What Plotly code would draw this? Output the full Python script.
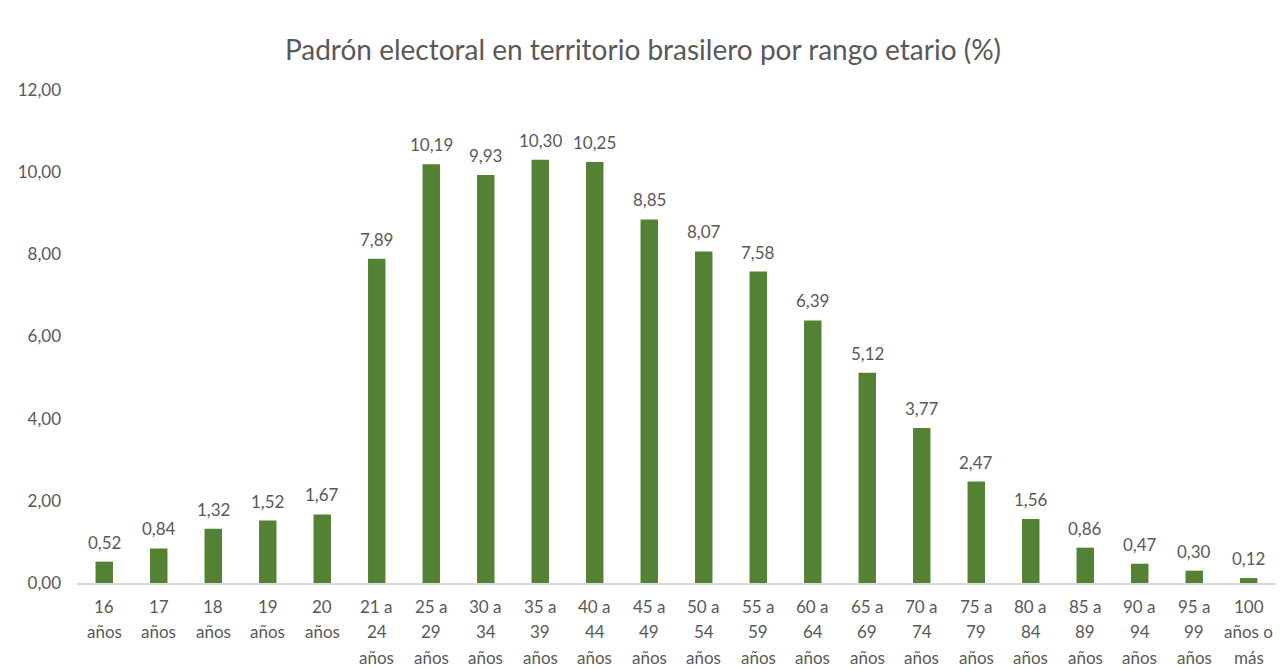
import plotly.graph_objects as go

categories = ["16\naños", "17\naños", "18\naños", "19\naños", "20\naños",
              "21 a\n24\naños", "25 a\n29\naños", "30 a\n34\naños",
              "35 a\n39\naños", "40 a\n44\naños", "45 a\n49\naños",
              "50 a\n54\naños", "55 a\n59\naños", "60 a\n64\naños",
              "65 a\n69\naños", "70 a\n74\naños", "75 a\n79\naños",
              "80 a\n84\naños", "85 a\n89\naños", "90 a\n94\naños",
              "95 a\n99\naños", "100\naños o\nmás"]
values = [0.52, 0.84, 1.32, 1.52, 1.67, 7.89, 10.19, 9.93, 10.30, 10.25, 8.85,
          8.07, 7.58, 6.39, 5.12, 3.77, 2.47, 1.56, 0.86, 0.47, 0.30, 0.12]
y_ticks = [0, 2, 4, 6, 8, 10, 12]

labels = [f"{v:.2f}".replace(".", ",") for v in values]

font_family = "Lato, 'Open Sans', sans-serif"
grey = "#595959"
xs = list(range(len(categories)))

fig = go.Figure(go.Bar(
    x=xs, y=values,
    marker=dict(color="#548235", line=dict(width=0)),
    width=0.32,
    cliponaxis=False,
    hoverinfo="skip",
))

annotations = []
# data labels
for x, v, t in zip(xs, values, labels):
    annotations.append(dict(x=x, y=v, xref="x", yref="y", text=t, showarrow=False,
                            yanchor="middle", xanchor="center", yshift=19.5,
                            font=dict(size=17, color=grey, family=font_family)))
# category labels (multi-line, Excel-like line spacing)
for x, cat in zip(xs, categories):
    for i, line in enumerate(cat.split("\n")):
        annotations.append(dict(x=x, y=0, xref="x", yref="paper", text=line,
                                showarrow=False, yanchor="middle", xanchor="center",
                                yshift=-(23 + 25.5 * i),
                                font=dict(size=17, color=grey, family=font_family)))

fig.update_layout(
    width=1286, height=669,
    paper_bgcolor="white", plot_bgcolor="white",
    margin=dict(l=77, r=10, t=90, b=86),
    separators=",.",
    title=dict(text="Padrón electoral en territorio brasilero por rango etario (%)",
               x=0.5, xanchor="center", y=1 - 50 / 669, yanchor="middle",
               font=dict(size=28, color=grey, family=font_family)),
    showlegend=False,
    annotations=annotations,
)
fig.update_xaxes(
    range=[-0.5, len(categories) - 0.5],
    showline=True, linecolor="#d9d9d9", linewidth=1.5,
    showgrid=False, ticks="", showticklabels=False, zeroline=False,
    automargin=False, fixedrange=True,
)
fig.update_yaxes(
    range=[0, 12], tickmode="array", tickvals=y_ticks, tickformat=".2f",
    showgrid=False, zeroline=False, showline=False, ticks="",
    tickfont=dict(size=17, color=grey, family=font_family),
    ticklabelstandoff=15, automargin=False, fixedrange=True,
)

fig.write_html(
    "out.html",
    config={"displayModeBar": False},
    post_script="document.body.style.margin='0';document.body.style.overflow='hidden';",
)
